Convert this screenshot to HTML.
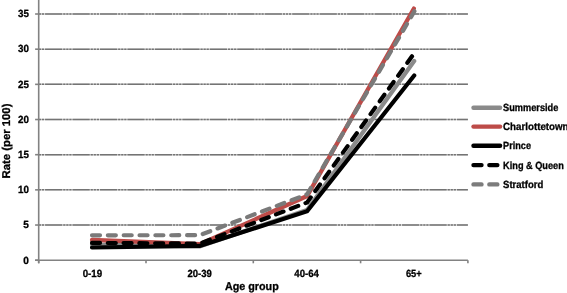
<!DOCTYPE html>
<html><head><meta charset="utf-8"><title>Rate by age group</title>
<style>
html,body{margin:0;padding:0;background:#fff;}
body{width:567px;height:293px;overflow:hidden;}
svg{display:block;will-change:transform;}
text{font-family:"Liberation Sans",sans-serif;font-weight:bold;fill:#000;stroke:#000;stroke-width:0.3px;text-rendering:geometricPrecision;}
.t{font-size:10.4px;}
.a{font-size:11.3px;}
</style></head><body>
<svg width="567" height="293" viewBox="0 0 567 293">
<rect width="567" height="293" fill="#fff"/>
<g stroke="#cdcdcd" stroke-width="1.5" fill="none">
<line x1="38.7" y1="225.03" x2="467.9" y2="225.03"/>
<line x1="38.7" y1="189.86" x2="467.9" y2="189.86"/>
<line x1="38.7" y1="154.69" x2="467.9" y2="154.69"/>
<line x1="38.7" y1="119.52" x2="467.9" y2="119.52"/>
<line x1="38.7" y1="84.35" x2="467.9" y2="84.35"/>
<line x1="38.7" y1="49.18" x2="467.9" y2="49.18"/>
<line x1="38.7" y1="14.01" x2="467.9" y2="14.01"/>
</g>
<g stroke="#747474" stroke-width="1.5" fill="none" stroke-dasharray="17.2 0.95 2.2 0.85 2.2 0.85 2.2 1.01" stroke-dashoffset="21.1">
<line x1="38.7" y1="225.03" x2="467.9" y2="225.03"/>
<line x1="38.7" y1="189.86" x2="467.9" y2="189.86"/>
<line x1="38.7" y1="154.69" x2="467.9" y2="154.69"/>
<line x1="38.7" y1="119.52" x2="467.9" y2="119.52"/>
<line x1="38.7" y1="84.35" x2="467.9" y2="84.35"/>
<line x1="38.7" y1="49.18" x2="467.9" y2="49.18"/>
<line x1="38.7" y1="14.01" x2="467.9" y2="14.01"/>
</g>
<g stroke="#828282" stroke-width="1.6" fill="none">
<line x1="38.7" y1="0" x2="38.7" y2="263.3"/>
<line x1="35.1" y1="260.2" x2="467.9" y2="260.2"/>
<line x1="35.1" y1="260.20" x2="38.7" y2="260.20"/>
<line x1="35.1" y1="225.03" x2="38.7" y2="225.03"/>
<line x1="35.1" y1="189.86" x2="38.7" y2="189.86"/>
<line x1="35.1" y1="154.69" x2="38.7" y2="154.69"/>
<line x1="35.1" y1="119.52" x2="38.7" y2="119.52"/>
<line x1="35.1" y1="84.35" x2="38.7" y2="84.35"/>
<line x1="35.1" y1="49.18" x2="38.7" y2="49.18"/>
<line x1="35.1" y1="14.01" x2="38.7" y2="14.01"/>
<line x1="38.70" y1="260.2" x2="38.70" y2="263.3"/>
<line x1="146.00" y1="260.2" x2="146.00" y2="263.3"/>
<line x1="253.30" y1="260.2" x2="253.30" y2="263.3"/>
<line x1="360.60" y1="260.2" x2="360.60" y2="263.3"/>
<line x1="467.90" y1="260.2" x2="467.90" y2="263.3"/>
</g>
<g fill="none" stroke-width="4.2" stroke-linecap="round" stroke-linejoin="miter">

<polyline points="92.0,244.5 199.8,246.4 307.1,210.0 414.2,61.0" stroke="#8a8a8a"/>
<polyline points="92.0,239.8 199.8,244.2 307.1,196.0 413.9,8.5" stroke="#bd4b48"/>
<polyline points="92.0,247.5 199.8,245.9 307.1,211.3 414.2,75.5" stroke="#000"/>
<polyline points="92.0,242.9 199.8,243.6 307.1,202.5 414.2,53.3" stroke="#000" stroke-dasharray="8.0 7.785"/>
<polyline points="92.0,235.3 199.8,235.2 307.1,194.3 414.4,11.3" stroke="#7a7a7a" stroke-dasharray="8.0 7.85"/>

</g>
<g class="t">
<text x="28.9" y="263.50" text-anchor="end" textLength="5.6" lengthAdjust="spacingAndGlyphs">0</text>
<text x="28.9" y="228.33" text-anchor="end" textLength="5.6" lengthAdjust="spacingAndGlyphs">5</text>
<text x="28.9" y="193.16" text-anchor="end" textLength="10.9" lengthAdjust="spacingAndGlyphs">10</text>
<text x="28.9" y="157.99" text-anchor="end" textLength="10.9" lengthAdjust="spacingAndGlyphs">15</text>
<text x="28.9" y="122.82" text-anchor="end" textLength="10.9" lengthAdjust="spacingAndGlyphs">20</text>
<text x="28.9" y="87.65" text-anchor="end" textLength="10.9" lengthAdjust="spacingAndGlyphs">25</text>
<text x="28.9" y="52.48" text-anchor="end" textLength="10.9" lengthAdjust="spacingAndGlyphs">30</text>
<text x="28.9" y="17.31" text-anchor="end" textLength="10.9" lengthAdjust="spacingAndGlyphs">35</text>
<text x="92.4" y="276.9" text-anchor="middle" textLength="19.5" lengthAdjust="spacingAndGlyphs">0-19</text>
<text x="199.7" y="276.9" text-anchor="middle" textLength="24.3" lengthAdjust="spacingAndGlyphs">20-39</text>
<text x="306.6" y="276.9" text-anchor="middle" textLength="24.6" lengthAdjust="spacingAndGlyphs">40-64</text>
<text x="413.8" y="276.9" text-anchor="middle" textLength="15.8" lengthAdjust="spacingAndGlyphs">65+</text>
<line x1="473.5" y1="107.7" x2="500.1" y2="107.7" stroke="#8a8a8a" stroke-width="4.4" stroke-linecap="round" />
<text x="503.1" y="111.1" textLength="55.199999999999996" lengthAdjust="spacingAndGlyphs">Summerside</text>
<line x1="473.5" y1="126.6" x2="500.1" y2="126.6" stroke="#bd4b48" stroke-width="4.4" stroke-linecap="round" />
<text x="503.1" y="130.0" textLength="65.4" lengthAdjust="spacingAndGlyphs">Charlottetown</text>
<line x1="473.5" y1="145.8" x2="500.1" y2="145.8" stroke="#000" stroke-width="4.4" stroke-linecap="round" />
<text x="503.1" y="149.2" textLength="27.9" lengthAdjust="spacingAndGlyphs">Prince</text>
<line x1="473.5" y1="165.1" x2="500.1" y2="165.1" stroke="#000" stroke-width="4.4" stroke-linecap="round" stroke-dasharray="8.0 7.85"/>
<text x="503.1" y="168.5" textLength="60.699999999999996" lengthAdjust="spacingAndGlyphs">King &amp; Queen</text>
<line x1="473.5" y1="184.4" x2="500.1" y2="184.4" stroke="#7c7c7c" stroke-width="4.4" stroke-linecap="round" stroke-dasharray="8.0 7.85"/>
<text x="503.1" y="187.8" textLength="40.199999999999996" lengthAdjust="spacingAndGlyphs">Stratford</text>
</g>
<g class="a">
<text x="224.9" y="290.2" textLength="53.9" lengthAdjust="spacingAndGlyphs">Age group</text>
<text transform="translate(9.9,178.4) rotate(-90)" textLength="74.8" lengthAdjust="spacingAndGlyphs">Rate (per 100)</text>
</g>
</svg>
</body></html>
